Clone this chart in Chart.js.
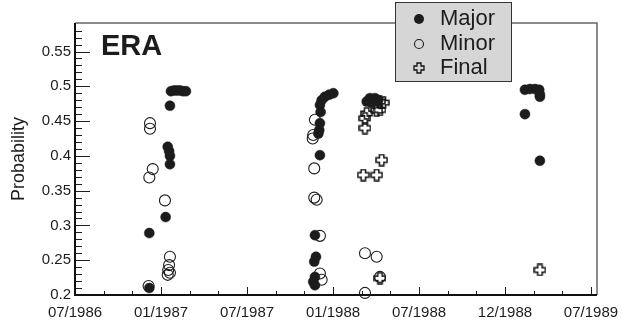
<!DOCTYPE html>
<html>
<head>
<meta charset="utf-8">
<script src="https://cdn.jsdelivr.net/npm/chart.js@4/dist/chart.umd.min.js"></script>
<style>
  html, body { margin: 0; padding: 0; background: #fff; }
  #wrap { width: 628px; height: 322px; }
</style>
</head>
<body>
<div id="wrap"><canvas id="c" width="628" height="322"></canvas></div>
<script>
// Dates are decimal years; probabilities on the y axis.
const majorX = [
  1987.058, 1987.076, 1987.093, 1987.110, 1987.128, 1987.145,
  1987.052, 1987.039, 1987.047, 1987.052, 1987.052, 1987.027, 1986.932, 1986.932,
  1988.002, 1987.978, 1987.953, 1987.934, 1987.924, 1987.928,
  1987.924, 1987.920, 1987.915, 1987.924, 1987.895, 1987.901, 1987.891,
  1987.895, 1987.885, 1987.895,
  1988.196, 1988.215, 1988.244, 1988.263, 1988.225,
  1989.116, 1989.145, 1989.174, 1989.199, 1989.203, 1989.203, 1989.116, 1989.203
];
const majorY = [
  0.493, 0.494, 0.494, 0.494, 0.493, 0.493,
  0.472, 0.413, 0.407, 0.400, 0.388, 0.312, 0.289, 0.210,
  0.490, 0.488, 0.485, 0.480, 0.473, 0.463,
  0.447, 0.437, 0.432, 0.401, 0.286, 0.255, 0.248,
  0.226, 0.219, 0.214,
  0.478, 0.483, 0.483, 0.480, 0.476,
  0.495, 0.496, 0.496, 0.495, 0.488, 0.485, 0.460, 0.393
];
const minorX = [
  1986.936, 1986.936, 1986.952, 1986.932, 1987.023,
  1987.052, 1987.047, 1987.042, 1987.052, 1987.039, 1986.928,
  1987.895, 1987.885, 1987.882, 1987.891, 1987.891, 1987.905,
  1987.924, 1987.924, 1987.934,
  1988.186, 1988.254, 1988.273, 1988.186
];
const minorY = [
  0.447, 0.439, 0.381, 0.369, 0.336,
  0.255, 0.243, 0.236, 0.232, 0.229, 0.213,
  0.452, 0.430, 0.425, 0.382, 0.340, 0.337,
  0.285, 0.231, 0.222,
  0.260, 0.255, 0.226, 0.203
];
const finalX = [
  1988.292, 1988.270, 1988.273, 1988.254, 1988.196, 1988.186, 1988.186,
  1988.283, 1988.176, 1988.254, 1988.273, 1989.203
];
const finalY = [
  0.4765, 0.478, 0.466, 0.465, 0.461, 0.454, 0.440,
  0.394, 0.3725, 0.3725, 0.224, 0.236
];

const xTickValues = [1986.5, 1987.0, 1987.5, 1988.0, 1988.5, 1989.0, 1989.5];
const xTickLabels = ['07/1986', '01/1987', '07/1987', '01/1988', '07/1988', '12/1988', '07/1989'];
const yTickValues = [0.2, 0.25, 0.3, 0.35, 0.4, 0.45, 0.5, 0.55];
const yTickLabels = ['0.2', '0.25', '0.3', '0.35', '0.4', '0.45', '0.5', '0.55'];
const seriesNames = ['Major', 'Minor', 'Final'];

const INK = '#1c1c1c';
const FONT = '"Liberation Sans", Arial, sans-serif';

function pairs(xs, ys) { return xs.map((x, i) => ({ x: x, y: ys[i] })); }

// Hollow "plus" marker drawn once into a small canvas.
function makeCross(size, arm, lw) {
  const cv = document.createElement('canvas');
  cv.width = size; cv.height = size;
  const g = cv.getContext('2d');
  const c = size / 2, e = size / 2 - 1;
  g.beginPath();
  g.moveTo(c - arm, c - e); g.lineTo(c + arm, c - e); g.lineTo(c + arm, c - arm);
  g.lineTo(c + e, c - arm); g.lineTo(c + e, c + arm); g.lineTo(c + arm, c + arm);
  g.lineTo(c + arm, c + e); g.lineTo(c - arm, c + e); g.lineTo(c - arm, c + arm);
  g.lineTo(c - e, c + arm); g.lineTo(c - e, c - arm); g.lineTo(c - arm, c - arm);
  g.closePath();
  g.lineWidth = lw; g.strokeStyle = '#111';
  g.stroke();
  return cv;
}
const crossMark = makeCross(13, 2.2, 1.5);
const crossSmall = makeCross(12, 2.0, 1.3);

const axesPlugin = {
  id: 'frameAndTicks',
  beforeDatasetsDraw(chart) {
    const { ctx, chartArea: a, scales } = chart;
    const xs = scales.x, ys = scales.y;
    ctx.save();
    ctx.strokeStyle = INK;
    ctx.lineWidth = 1;
    // x ticks, every two months, pointing inward
    for (let i = 0; i <= 18; i++) {
      const v = 1986.5 + i / 6;
      const px = Math.round(xs.getPixelForValue(v)) + 0.5;
      const len = (i % 3 === 0) ? 8 : 4;
      ctx.beginPath(); ctx.moveTo(px, a.bottom); ctx.lineTo(px, a.bottom - len); ctx.stroke();
    }
    // y ticks, every 0.01
    for (let i = 0; i <= 38; i++) {
      const v = 0.2 + i * 0.01;
      const py = Math.round(ys.getPixelForValue(v)) + 0.5;
      const len = (i % 5 === 0) ? 15 : 7;
      ctx.beginPath(); ctx.moveTo(a.left, py); ctx.lineTo(a.left + len, py); ctx.stroke();
    }
    // top and right frame
    ctx.strokeStyle = '#666';
    ctx.lineWidth = 1.5;
    ctx.beginPath();
    ctx.moveTo(a.left, a.top); ctx.lineTo(a.right, a.top); ctx.lineTo(a.right, a.bottom);
    ctx.stroke();
    // axis lines
    ctx.strokeStyle = '#111';
    ctx.lineWidth = 2;
    ctx.beginPath();
    ctx.moveTo(a.left, a.top); ctx.lineTo(a.left, a.bottom); ctx.lineTo(a.right, a.bottom);
    ctx.stroke();
    ctx.restore();
  },
  afterDraw(chart) {
    const ctx = chart.ctx;
    ctx.save();
    // panel label
    ctx.fillStyle = INK;
    ctx.font = 'bold 29px ' + FONT;
    ctx.textAlign = 'left';
    ctx.textBaseline = 'alphabetic';
    ctx.fillText('ERA', 101, 55);
    // legend box
    const bx = 395, by = 2, bw = 117, bh = 80;
    ctx.fillStyle = '#d6d6d6';
    ctx.fillRect(bx, by, bw, bh);
    ctx.strokeStyle = '#333';
    ctx.lineWidth = 1;
    ctx.strokeRect(bx + 0.5, by + 0.5, bw - 1, bh - 1);
    const rows = [19, 44, 68];
    const mx = 419;
    // Major
    ctx.fillStyle = INK;
    ctx.beginPath(); ctx.arc(mx, rows[0], 5, 0, Math.PI * 2); ctx.fill();
    // Minor
    ctx.strokeStyle = INK; ctx.lineWidth = 1.1;
    ctx.beginPath(); ctx.arc(mx, rows[1], 4.5, 0, Math.PI * 2); ctx.stroke();
    // Final
    ctx.drawImage(crossSmall, mx - 6, rows[2] - 6);
    ctx.fillStyle = INK;
    ctx.font = '22px ' + FONT;
    ctx.textBaseline = 'middle';
    seriesNames.forEach((n, i) => ctx.fillText(n, 440, rows[i]));
    ctx.restore();
  }
};

new Chart(document.getElementById('c'), {
  type: 'scatter',
  data: {
    datasets: [
      { label: seriesNames[0], data: pairs(majorX, majorY), pointStyle: 'circle', pointRadius: 5,
        backgroundColor: INK, borderColor: INK, borderWidth: 0.5, clip: false },
      { label: seriesNames[1], data: pairs(minorX, minorY), pointStyle: 'circle', pointRadius: 5.5,
        backgroundColor: 'rgba(0,0,0,0)', borderColor: INK, borderWidth: 1.1, clip: false },
      { label: seriesNames[2], data: pairs(finalX, finalY), pointStyle: crossMark, pointRadius: 6.5,
        clip: false }
    ]
  },
  options: {
    responsive: false,
    animation: false,
    events: [],
    layout: { padding: { left: 0, right: 31, top: 23, bottom: 0 } },
    plugins: { legend: { display: false }, tooltip: { enabled: false }, title: { display: false } },
    scales: {
      x: {
        type: 'linear', min: 1986.5, max: 1989.535,
        grid: { display: false, drawTicks: false }, border: { display: false },
        afterBuildTicks(s) { s.ticks = xTickValues.map(v => ({ value: v })); },
        afterFit(s) { s.height = 27; },
        ticks: {
          autoSkip: false, maxRotation: 0, padding: 9, color: INK,
          font: { family: FONT, size: 15 },
          callback(v) { const i = xTickValues.indexOf(v); return i >= 0 ? xTickLabels[i] : ''; }
        }
      },
      y: {
        type: 'linear', min: 0.2, max: 0.591,
        grid: { display: false, drawTicks: false }, border: { display: false },
        afterBuildTicks(s) { s.ticks = yTickValues.map(v => ({ value: v })); },
        afterFit(s) { s.width = 75; },
        title: { display: true, text: 'Probability', color: INK,
          font: { family: FONT, size: 18 }, padding: { top: 8, bottom: 0 } },
        ticks: {
          autoSkip: false, padding: 4, color: INK,
          font: { family: FONT, size: 15 },
          callback(v) { const i = yTickValues.indexOf(v); return i >= 0 ? yTickLabels[i] : ''; }
        }
      }
    }
  },
  plugins: [axesPlugin]
});
</script>
</body>
</html>
